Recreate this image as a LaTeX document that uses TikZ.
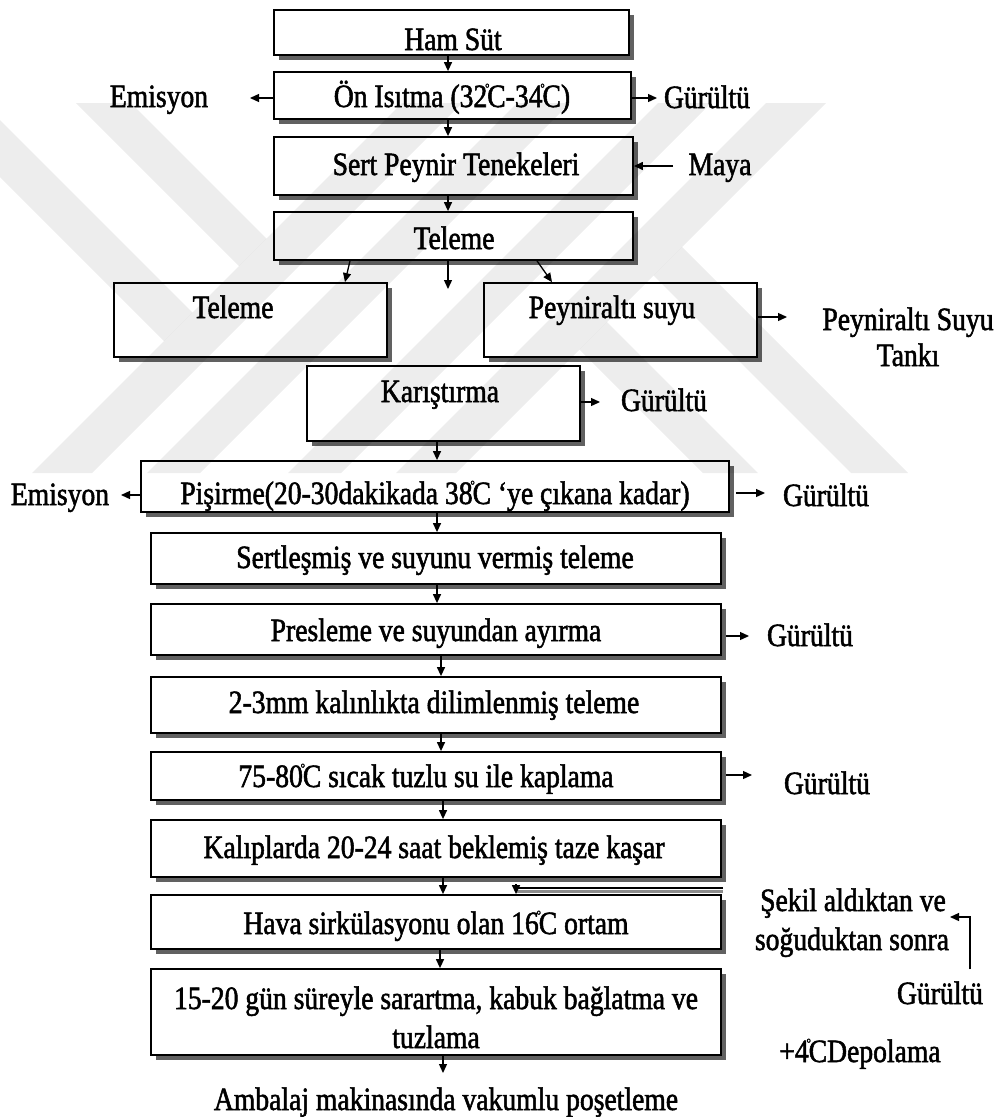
\documentclass[tikz,border=0pt]{standalone}
\usepackage{fontspec}
\setmainfont{Liberation Serif}[FakeStretch=0.85,FakeBold=1.6]
\usetikzlibrary{arrows.meta,shadows}
% small raised degree mark squeezed between the number and the C
\newcommand\dgr{\makebox[0pt]{\raisebox{0.45em}{\fontsize{13}{13}\selectfont °}}}
\begin{document}
\begin{tikzpicture}[x=1pt,y=-1pt,
  every node/.style={inner sep=0pt},
  box/.style={draw, line width=1.8pt, fill=white,
    general shadow={fill=black!62, shadow xshift=5pt, shadow yshift=-5pt}},
  txt/.style={anchor=base, font=\fontsize{32.5}{37}\selectfont},
  arr/.style={line width=1.3pt, -{Triangle[length=9pt,width=8pt]}},
  wm/.style={fill=black, fill opacity=0.07, draw=none}]

\useasboundingbox (0,0) rectangle (1002,1117);

% ---- process boxes ----
\node[box, minimum width=355pt, minimum height=45pt] (ham)  at (451.5,32.5) {};
\node[box, minimum width=357pt, minimum height=47pt] (on)   at (452.5,95.5) {};
\node[box, minimum width=359pt, minimum height=58pt] (sert) at (453.5,166) {};
\node[box, minimum width=359pt, minimum height=48pt] (tel1) at (453.5,236) {};
\node[box, minimum width=273pt, minimum height=74pt] (tel2) at (250.5,320) {};
\node[box, minimum width=273pt, minimum height=74pt] (pas)  at (620.5,320) {};
\node[box, minimum width=273pt, minimum height=75pt] (kar)  at (443.5,403.5) {};
\node[box, minimum width=588pt, minimum height=51pt] (pis)  at (435,486.5) {};
\node[box, minimum width=570pt, minimum height=51pt] (ser)  at (436,558.5) {};
\node[box, minimum width=570pt, minimum height=51pt] (pre)  at (436,629.5) {};
\node[box, minimum width=570pt, minimum height=56pt] (mm)   at (436,705) {};
\node[box, minimum width=570pt, minimum height=48pt] (sic)  at (436,776) {};
\node[box, minimum width=570pt, minimum height=57pt] (kal)  at (436,848.5) {};
\node[box, minimum width=570pt, minimum height=54pt] (hava) at (436,922) {};
\node[box, minimum width=570pt, minimum height=86pt] (gun)  at (436,1012) {};

% ---- texts ----
\node[txt] (hamT)  at (453,50)  {Ham Süt};
\node[txt] (onT)   at (452,107) {Ön Isıtma (32\dgr C-34\dgr C)};
\node[txt] (em1)   at (159,107) {Emisyon};
\node[txt] (gu1)   at (707,108) {Gürültü};
\node[txt] (sertT) at (456,175) {Sert Peynir Tenekeleri};
\node[txt] (maya)  at (720,175) {Maya};
\node[txt] (tel1T) at (454,249) {Teleme};
\node[txt] (tel2T) at (233,318) {Teleme};
\node[txt] (pasT)  at (612,318) {Peyniraltı suyu};
\node[txt] (pst1)  at (908,330) {Peyniraltı Suyu};
\node[txt] (pst2)  at (908,366) {Tankı};
\node[txt] (karT)  at (440,402) {Karıştırma};
\node[txt] (gu2)   at (664,411) {Gürültü};
\node[txt] (pisT)  at (435,504) {Pişirme(20-30dakikada 38\dgr C ‘ye çıkana kadar)};
\node[txt] (em2)   at (60,505)  {Emisyon};
\node[txt] (gu3)   at (826,506) {Gürültü};
\node[txt] (serT)  at (435,568) {Sertleşmiş ve suyunu vermiş teleme};
\node[txt] (preT)  at (436,641) {Presleme ve suyundan ayırma};
\node[txt] (gu4)   at (810,646) {Gürültü};
\node[txt] (mmT)   at (434,713) {2-3mm kalınlıkta dilimlenmiş teleme};
\node[txt] (sicT)  at (426,787) {75-80\dgr C sıcak tuzlu su ile kaplama};
\node[txt] (gu5)   at (827,794) {Gürültü};
\node[txt] (kalT)  at (434,858) {Kalıplarda 20-24 saat beklemiş taze kaşar};
\node[txt] (havaT) at (436,934) {Hava sirkülasyonu olan 16\dgr C ortam};
\node[txt] (sek1)  at (853,911) {Şekil aldıktan ve};
\node[txt] (sek2)  at (852,950) {soğuduktan sonra};
\node[txt] (gu6)   at (940,1004) {Gürültü};
\node[txt] (gunT1) at (436,1009) {15-20 gün süreyle sarartma, kabuk bağlatma ve};
\node[txt] (gunT2) at (436,1048) {tuzlama};
\node[txt] (dep)   at (860,1062) {+4\dgr CDepolama};
\node[txt] (amb)   at (446,1110) {Ambalaj makinasında vakumlu poşetleme};

% ---- free ends of side arrows ----
\coordinate (e1) at (250,98);
\coordinate (g1) at (657,98);
\coordinate (m1) at (673,166);
\coordinate (tc) at (448,289);
\coordinate (p1) at (787,317);
\coordinate (k1) at (600,402);
\coordinate (e2) at (121,495);
\coordinate (g3) at (765,493);
\coordinate (g4) at (749,636);
\coordinate (g5) at (752,775);
\coordinate (kx) at (723,888);
\coordinate (kc) at (516,884);
\coordinate (s1) at (950,917);
\coordinate (ab) at (443,1073);

% ---- main flow ----
\draw[arr] ([xshift=-3.5pt]ham.south) -- ([xshift=-4.5pt]on.north);
\draw[arr] ([xshift=-4.5pt]on.south) -- ([xshift=-5.5pt]sert.north);
\draw[arr] ([xshift=-5.5pt]sert.south) -- ([xshift=-5.5pt]tel1.north);
\draw[arr] ([xshift=-103.5pt]tel1.south) -- ([xshift=94.5pt]tel2.north);
\draw[arr] (tel1.south -| tc) -- (tc);
\draw[arr] ([xshift=83.5pt]tel1.south) -- ([xshift=-68.5pt]pas.north);
\draw[arr] ([xshift=-6.5pt]kar.south) -- ([xshift=2pt]pis.north);
\draw[arr] ([xshift=2pt]pis.south) -- ([xshift=1pt]ser.north);
\draw[arr] ([xshift=1pt]ser.south) -- ([xshift=1pt]pre.north);
\draw[arr] ([xshift=5pt]pre.south) -- ([xshift=5pt]mm.north);
\draw[arr] ([xshift=5pt]mm.south) -- ([xshift=5pt]sic.north);
\draw[arr] ([xshift=7pt]sic.south) -- ([xshift=7pt]kal.north);
\draw[arr] ([xshift=7pt]kal.south) -- ([xshift=7pt]hava.north);
\draw[arr] ([xshift=4pt]hava.south) -- ([xshift=4pt]gun.north);
\draw[arr] ([xshift=7pt]gun.south) -- (ab);

% ---- side arrows ----
\draw[arr] (on.west |- e1) -- (e1);
\draw[arr] (on.east |- g1) -- (g1);
\draw[arr] (m1) -- (sert.east |- m1);
\draw[arr] (pas.east |- p1) -- (p1);
\draw[arr] (kar.east |- k1) -- (k1);
\draw[arr] (pis.west |- e2) -- (e2);
\draw[arr] ([xshift=6pt]pis.east |- g3) -- (g3);
\draw[arr] ([xshift=4pt]pre.east |- g4) -- (g4);
\draw[arr] ([xshift=4pt]sic.east |- g5) -- (g5);
\draw[line width=3pt, black!45] ([yshift=-3pt]kx) -- ([yshift=-3pt]kx -| kc);
\draw[line width=1.3pt] (kx) -- (kx -| kc);
\draw[arr] (kc) -- (kc |- hava.north);
\draw[arr] ([xshift=30pt,yshift=12pt]gu6.north) |- (s1);

% ---- faint background emblem ----
\begin{scope}
  \clip (0,103) rectangle (1002,473);
  \fill[wm] (402,103) -- (462,103) -- (92,473) -- (32,473) -- cycle;
  \fill[wm] (517,103) -- (570,103) -- (200,473) -- (147,473) -- cycle;
  \fill[wm] (658,103) -- (711,103) -- (341,473) -- (288,473) -- cycle;
  \fill[wm] (766,103) -- (826,103) -- (456,473) -- (396,473) -- cycle;
  \fill[wm] (131,103) -- (266.5,238.5) -- (239,266) -- (76,103) -- cycle;
  \fill[wm] (-17,103) -- (192.5,312.5) -- (164,341) -- (-74,103) -- cycle;
  \fill[wm] (607,322) -- (758,473) -- (703,473) -- (579.5,349.5) -- cycle;
  \fill[wm] (682,247) -- (908,473) -- (851,473) -- (653.5,275.5) -- cycle;
\end{scope}
\end{tikzpicture}
\end{document}
